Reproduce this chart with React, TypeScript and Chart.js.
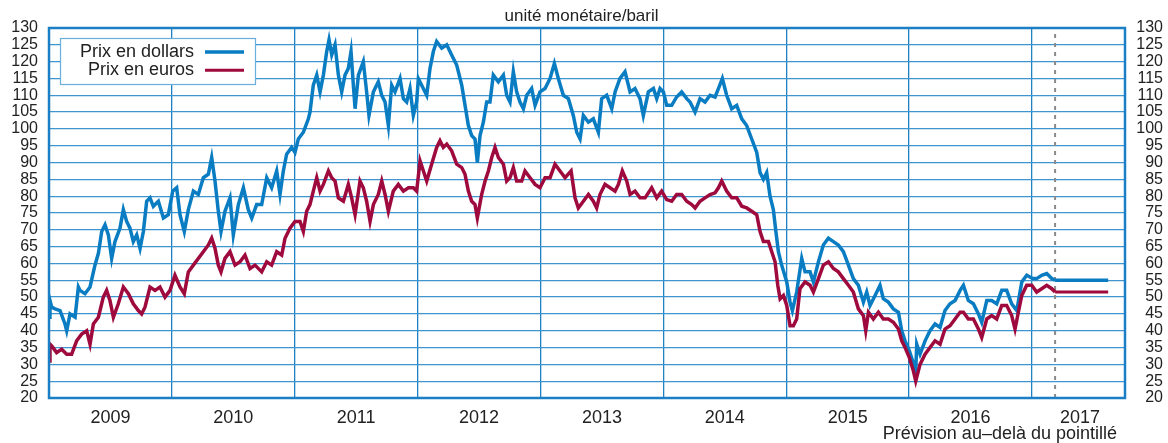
import React, { useEffect, useRef } from "react";
import { Chart, registerables } from "chart.js";

Chart.register(...registerables);

// ---------- data (dates as decimal years) ----------
const usdDates = [
  2009.000, 2009.008, 2009.022, 2009.049, 2009.090, 2009.130, 2009.144, 2009.171, 2009.212, 2009.239,
  2009.252, 2009.293, 2009.334, 2009.374, 2009.402, 2009.429, 2009.456, 2009.483, 2009.510, 2009.537,
  2009.578, 2009.605, 2009.632, 2009.659, 2009.686, 2009.714, 2009.741, 2009.768, 2009.795, 2009.822,
  2009.849, 2009.890, 2009.931, 2009.971, 2010.007, 2010.039, 2010.066, 2010.101, 2010.134, 2010.175,
  2010.215, 2010.256, 2010.297, 2010.324, 2010.351, 2010.378, 2010.400, 2010.432, 2010.473, 2010.500,
  2010.541, 2010.582, 2010.622, 2010.650, 2010.690, 2010.731, 2010.772, 2010.812, 2010.853, 2010.880,
  2010.907, 2010.934, 2010.975, 2011.002, 2011.029, 2011.070, 2011.111, 2011.124, 2011.151, 2011.179,
  2011.206, 2011.233, 2011.260, 2011.279, 2011.301, 2011.328, 2011.355, 2011.382, 2011.409, 2011.436,
  2011.458, 2011.477, 2011.491, 2011.518, 2011.558, 2011.585, 2011.604, 2011.640, 2011.680, 2011.708,
  2011.735, 2011.762, 2011.789, 2011.816, 2011.857, 2011.884, 2011.911, 2011.938, 2011.965, 2011.992,
  2012.006, 2012.033, 2012.074, 2012.101, 2012.128, 2012.155, 2012.196, 2012.237, 2012.277, 2012.318,
  2012.359, 2012.386, 2012.413, 2012.440, 2012.467, 2012.486, 2012.508, 2012.535, 2012.562, 2012.589,
  2012.616, 2012.657, 2012.698, 2012.725, 2012.752, 2012.779, 2012.806, 2012.833, 2012.861, 2012.888,
  2012.928, 2012.956, 2012.996, 2013.037, 2013.078, 2013.113, 2013.145, 2013.186, 2013.227, 2013.267,
  2013.295, 2013.322, 2013.349, 2013.390, 2013.430, 2013.471, 2013.498, 2013.539, 2013.580, 2013.607,
  2013.647, 2013.688, 2013.729, 2013.769, 2013.810, 2013.837, 2013.878, 2013.919, 2013.946, 2013.973,
  2014.000, 2014.027, 2014.068, 2014.108, 2014.149, 2014.190, 2014.217, 2014.258, 2014.298, 2014.339,
  2014.380, 2014.421, 2014.448, 2014.480, 2014.515, 2014.556, 2014.597, 2014.638, 2014.678, 2014.719,
  2014.760, 2014.787, 2014.814, 2014.841, 2014.868, 2014.895, 2014.914, 2014.936, 2014.963, 2015.004,
  2015.031, 2015.050, 2015.085, 2015.126, 2015.153, 2015.194, 2015.221, 2015.262, 2015.302, 2015.343,
  2015.384, 2015.424, 2015.465, 2015.506, 2015.546, 2015.587, 2015.628, 2015.655, 2015.682, 2015.723,
  2015.763, 2015.790, 2015.831, 2015.872, 2015.913, 2015.940, 2015.967, 2016.002, 2016.029, 2016.054,
  2016.062, 2016.089, 2016.130, 2016.170, 2016.211, 2016.252, 2016.292, 2016.333, 2016.374, 2016.415,
  2016.442, 2016.482, 2016.523, 2016.564, 2016.591, 2016.632, 2016.672, 2016.713, 2016.754, 2016.794,
  2016.835, 2016.876, 2016.917, 2016.957, 2017.006, 2017.038, 2017.079, 2017.120, 2017.161, 2017.188,
];
const usdPrices = [
  44, 49, 47, 46.5, 46, 42, 40, 45, 44, 53,
  52, 51, 53, 59.5, 63, 69.5, 71.5, 68.5, 61.5, 66.5,
  70.5, 76, 72.5, 70.5, 66.5, 68.5, 64.5, 69.5, 78.5, 79.5,
  77, 78.5, 73.5, 74.5, 81.5, 82.5, 74.5, 69.5, 76, 81.5,
  80.5, 85.5, 86.5, 91.5, 84.5, 75.5, 69.5, 75.5, 79.5, 68.5,
  77.5, 82.5, 76, 73.5, 77.5, 77.5, 85.5, 82.5, 87.5, 80.5,
  87.5, 92.5, 94.5, 93, 97, 99, 103, 105, 113, 116,
  111, 116, 123, 126.5, 122, 125, 116, 111, 116, 118,
  123, 113, 106, 116, 120, 111, 104, 111, 114, 110,
  108, 101, 113, 111, 115, 109, 108, 112, 104, 108,
  115, 113, 110, 118, 123, 126, 124, 125, 122, 119,
  113, 107, 101, 98, 97, 90, 98, 102, 108, 108,
  116, 114, 116, 110, 108, 117, 111, 108, 106, 110,
  112, 107, 111, 112, 115, 119.5, 115, 110, 109, 104,
  99, 97, 104, 102, 103, 99, 109, 110, 106, 111,
  115, 117, 111, 112, 109, 104, 111, 112, 109, 112,
  111, 107, 107, 109.5, 111, 109, 108, 105, 109, 108,
  110, 109.5, 112, 115, 110, 106, 107, 103, 101, 97,
  93, 87, 85, 87, 80, 76, 70, 63.5, 59.5, 54.5,
  48.5, 46, 51.5, 61.5, 57.5, 57.5, 54.5, 60.5, 65.5, 67.5,
  66.5, 65.5, 63.5, 59.5, 55.5, 53.5, 48.5, 51.5, 47.5, 50.5,
  53.5, 49.5, 48.5, 46.5, 45.5, 40, 37, 34, 31, 28,
  36, 33, 37, 40, 42, 41, 46, 48, 49, 52,
  53.5, 49, 48, 45, 42.5, 49, 49, 48, 52, 52,
  48, 46, 54.5, 56.5, 55.5, 55.5, 56.5, 57, 55.5, 55,
];

const eurDates = [
  2009.000, 2009.008, 2009.022, 2009.062, 2009.103, 2009.144, 2009.184, 2009.225, 2009.266, 2009.307,
  2009.334, 2009.361, 2009.402, 2009.442, 2009.469, 2009.496, 2009.524, 2009.564, 2009.605, 2009.646,
  2009.686, 2009.727, 2009.754, 2009.781, 2009.822, 2009.863, 2009.903, 2009.944, 2009.985, 2010.025,
  2010.066, 2010.101, 2010.134, 2010.175, 2010.215, 2010.256, 2010.297, 2010.324, 2010.351, 2010.378,
  2010.400, 2010.432, 2010.473, 2010.514, 2010.555, 2010.595, 2010.636, 2010.677, 2010.731, 2010.772,
  2010.812, 2010.853, 2010.894, 2010.921, 2010.961, 2011.002, 2011.043, 2011.070, 2011.097, 2011.124,
  2011.151, 2011.179, 2011.206, 2011.233, 2011.274, 2011.301, 2011.328, 2011.355, 2011.396, 2011.436,
  2011.463, 2011.491, 2011.531, 2011.558, 2011.585, 2011.613, 2011.640, 2011.680, 2011.708, 2011.735,
  2011.762, 2011.802, 2011.843, 2011.884, 2011.925, 2011.965, 2011.992, 2012.020, 2012.047, 2012.074,
  2012.114, 2012.155, 2012.182, 2012.209, 2012.237, 2012.277, 2012.318, 2012.359, 2012.386, 2012.413,
  2012.440, 2012.467, 2012.486, 2012.521, 2012.549, 2012.576, 2012.603, 2012.630, 2012.657, 2012.698,
  2012.725, 2012.752, 2012.779, 2012.806, 2012.847, 2012.874, 2012.915, 2012.956, 2012.996, 2013.037,
  2013.078, 2013.118, 2013.159, 2013.200, 2013.249, 2013.281, 2013.308, 2013.349, 2013.390, 2013.430,
  2013.457, 2013.484, 2013.525, 2013.566, 2013.607, 2013.634, 2013.666, 2013.702, 2013.729, 2013.769,
  2013.810, 2013.851, 2013.905, 2013.946, 2013.986, 2014.027, 2014.068, 2014.108, 2014.149, 2014.190,
  2014.231, 2014.258, 2014.298, 2014.339, 2014.380, 2014.421, 2014.448, 2014.475, 2014.515, 2014.556,
  2014.597, 2014.638, 2014.678, 2014.719, 2014.760, 2014.787, 2014.814, 2014.855, 2014.882, 2014.909,
  2014.931, 2014.950, 2014.977, 2015.004, 2015.031, 2015.058, 2015.085, 2015.112, 2015.153, 2015.194,
  2015.221, 2015.262, 2015.302, 2015.343, 2015.384, 2015.424, 2015.465, 2015.506, 2015.546, 2015.587,
  2015.628, 2015.647, 2015.669, 2015.709, 2015.750, 2015.790, 2015.831, 2015.872, 2015.913, 2015.940,
  2015.967, 2016.002, 2016.035, 2016.054, 2016.089, 2016.130, 2016.170, 2016.211, 2016.252, 2016.292,
  2016.333, 2016.374, 2016.415, 2016.442, 2016.482, 2016.523, 2016.564, 2016.591, 2016.632, 2016.672,
  2016.713, 2016.754, 2016.794, 2016.835, 2016.862, 2016.889, 2016.917, 2016.957, 2016.998, 2017.038,
  2017.079, 2017.120, 2017.161, 2017.188,
];
const eurPrices = [
  31, 36, 35.5, 33.5, 34.5, 33, 33, 37, 39, 40,
  36, 42, 44, 50, 52, 49, 44, 48, 53, 51,
  48, 46, 45, 47, 53, 52, 53, 50, 52, 56.5,
  53, 51, 57.5, 59.5, 61.5, 63.5, 65.5, 67.5, 64.5, 59.5,
  57.5, 61.5, 63.5, 59.5, 60.5, 62.5, 58.5, 59.5, 57.5, 60.5,
  59.5, 63.5, 62.5, 67.5, 70.5, 72.5, 72.5, 69.5, 75.5, 77.5,
  81.5, 85.5, 81.5, 83.5, 87.5, 85.5, 84.5, 79.5, 78.5, 83.5,
  79.5, 74.5, 84.5, 82.5, 78.5, 72.5, 77.5, 80.5, 84.5, 80.5,
  75.5, 81.5, 83.5, 81.5, 82.5, 82.5, 81.5, 90.5, 87.5, 84.5,
  89.5, 94.5, 96.5, 94.5, 95.5, 93.5, 89.5, 88.5, 86.5, 81.5,
  78.5, 77.5, 73.5, 80.5, 84.5, 87.5, 91.5, 94.5, 91.5, 89.5,
  84.5, 85.5, 88.5, 84.5, 84.5, 87.5, 85.5, 83.5, 82.5, 85.5,
  85.5, 89.5, 87.5, 85.5, 87.5, 79.5, 76.5, 78.5, 80.5, 78.5,
  76.5, 80.5, 83.5, 82.5, 81.5, 83.5, 87.5, 84.5, 80.5, 81.5,
  79.5, 79.5, 82.5, 79.5, 81.5, 79, 78.5, 80.5, 80.5, 78.5,
  77.5, 76.5, 78.5, 79.5, 80.5, 81, 82.5, 84.5, 81.5, 79.5,
  79.5, 77, 76.5, 75.5, 74.5, 69.5, 66.5, 66.5, 63.5, 60.5,
  53.5, 49.5, 50.5, 47.5, 41.5, 41.5, 43.5, 52.5, 54.5, 53.5,
  51.5, 55.5, 59.5, 60.5, 58.5, 57.5, 55.5, 53.5, 51.5, 46.5,
  44.5, 40, 45.5, 43.5, 45.5, 43.5, 43.5, 42.5, 40.5, 37,
  35, 32, 28, 25, 30, 33, 35, 37, 36, 40.5,
  41.5, 43.5, 45.5, 45.5, 43.5, 43.5, 40.5, 38, 43.5, 44.5,
  43.5, 47.5, 47.5, 44.5, 40.5, 45.5, 50.5, 53.5, 53.5, 51.5,
  52.5, 53.5, 52.5, 51.5,
];

const forecastStart = 2017.188;
const forecastEnd = 2017.62;
const usdForecast = 55;
const eurForecast = 51.5;

const xMin = 2009;
const xMax = 2017.757;
const yearBoundaries = [2009, 2010, 2011, 2012, 2013, 2014, 2015, 2016, 2017];
const yearLabelPositions = [2009.5, 2010.5, 2011.5, 2012.5, 2013.5, 2014.5, 2015.5, 2016.5, 2017.39];
const yearLabels = ["2009", "2010", "2011", "2012", "2013", "2014", "2015", "2016", "2017"];
const yMin = 20;
const yMax = 130;
const yStep = 5;

const seriesNames = ["Prix en dollars", "Prix en euros"];
const titleText = "unité monétaire/baril";
const footnoteText = "Prévision au\u2013delà du pointillé";

// ---------- styles ----------
const FONT = '"Liberation Sans", Arial, Helvetica, sans-serif';
const usdColor = "#0a7cc2";
const eurColor = "#9e0a3d";
const gridColor = "#3f95d0";
const yearLineColor = "#1f80c4";
const frameColor = "#1a7fc4";
const textColor = "#222222";
const dashColor = "#8a8a8a";

const toPoints = (xs: number[], ys: number[]) => xs.map((x, i) => ({ x, y: ys[i] }));

const overlayPlugin = {
  id: "overlay",
  afterDatasetsDraw(chart: any) {
    const { ctx, chartArea: a } = chart;
    ctx.save();
    // frame
    ctx.strokeStyle = frameColor;
    ctx.lineWidth = 2.5;
    ctx.strokeRect(a.left, a.top, a.right - a.left, a.bottom - a.top);
    // legend box
    const bx = a.left + 11;
    const by = a.top + 10;
    const bw = 195;
    const bh = 46;
    ctx.fillStyle = "#ffffff";
    ctx.fillRect(bx, by, bw, bh);
    ctx.strokeStyle = "#6aaedc";
    ctx.lineWidth = 1.2;
    ctx.strokeRect(bx + 0.5, by + 0.5, bw, bh);
    ctx.font = `18px ${FONT}`;
    ctx.textAlign = "right";
    ctx.textBaseline = "middle";
    const items = [
      { label: seriesNames[0], color: usdColor, w: 3.5 },
      { label: seriesNames[1], color: eurColor, w: 3 },
    ];
    items.forEach((it, i) => {
      const y = by + 14 + i * 18.3;
      ctx.fillStyle = textColor;
      ctx.fillText(it.label, bx + 134, y);
      ctx.strokeStyle = it.color;
      ctx.lineWidth = it.w;
      ctx.beginPath();
      ctx.moveTo(bx + 145, y);
      ctx.lineTo(bx + 184, y);
      ctx.stroke();
    });
    // footnote
    ctx.fillStyle = textColor;
    ctx.textAlign = "right";
    ctx.textBaseline = "alphabetic";
    ctx.fillText(footnoteText, a.right - 8, a.bottom + 41);
    ctx.restore();
  },
};

export default function App() {
  const ref = useRef<HTMLCanvasElement | null>(null);

  useEffect(() => {
    document.body.style.margin = "0";
    Chart.defaults.font.family = FONT;
    const canvas = ref.current;
    if (!canvas) return;

    const yTicksCommon = {
      stepSize: yStep,
      autoSkip: false,
      color: textColor,
      font: { size: 16, lineHeight: 1.2 },
    };

    const chart = new Chart(canvas, {
      type: "line",
      data: {
        datasets: [
          {
            label: seriesNames[1],
            data: toPoints(eurDates, eurPrices),
            borderColor: eurColor,
            borderWidth: 3.5,
            pointRadius: 0,
            tension: 0,
            order: 0,
          },
          {
            label: seriesNames[0],
            data: toPoints(usdDates, usdPrices),
            borderColor: usdColor,
            borderWidth: 3.5,
            pointRadius: 0,
            tension: 0,
            order: 1,
          },
          {
            label: "forecast-eur",
            data: [
              { x: forecastStart, y: eurForecast },
              { x: forecastEnd, y: eurForecast },
            ],
            borderColor: eurColor,
            borderWidth: 3,
            pointRadius: 0,
            order: 0,
          },
          {
            label: "forecast-usd",
            data: [
              { x: forecastStart, y: usdForecast },
              { x: forecastEnd, y: usdForecast },
            ],
            borderColor: usdColor,
            borderWidth: 3.5,
            pointRadius: 0,
            order: 1,
          },
          {
            label: "forecast-start",
            data: [
              { x: forecastStart, y: yMin },
              { x: forecastStart, y: yMax },
            ],
            borderColor: dashColor,
            borderWidth: 2,
            borderDash: [4, 5],
            pointRadius: 0,
            order: 3,
          },
        ],
      },
      options: {
        responsive: false,
        animation: false,
        devicePixelRatio: 1,
        parsing: false,
        normalized: true,
        layout: { padding: { left: 0, right: 5, top: 0, bottom: 0 } },
        plugins: {
          legend: { display: false },
          tooltip: { enabled: false },
          title: {
            display: true,
            text: titleText,
            color: textColor,
            font: { size: 17, weight: "normal", lineHeight: 1.2 },
            padding: { top: 6, bottom: 1.6 },
          },
        },
        scales: {
          x: {
            type: "linear",
            position: "bottom",
            min: xMin,
            max: xMax,
            afterBuildTicks: (s: any) => {
              s.ticks = yearBoundaries.map((v) => ({ value: v }));
            },
            ticks: { display: false },
            grid: { color: yearLineColor, lineWidth: 1.3, drawTicks: false },
            border: { display: false },
            afterFit: (s: any) => {
              s.height = 0;
            },
          },
          xl: {
            type: "linear",
            position: "bottom",
            min: xMin,
            max: xMax,
            afterBuildTicks: (s: any) => {
              s.ticks = yearLabelPositions.map((v) => ({ value: v }));
            },
            ticks: {
              autoSkip: false,
              maxRotation: 0,
              padding: 9,
              color: textColor,
              font: { size: 18, lineHeight: 1.2 },
              callback: (_v: any, i: number) => yearLabels[i],
            },
            grid: { display: false, drawTicks: false },
            border: { display: false },
            afterFit: (s: any) => {
              s.height = 45;
            },
          },
          y: {
            type: "linear",
            position: "left",
            min: yMin,
            max: yMax,
            ticks: { ...yTicksCommon, padding: 11 },
            grid: { color: gridColor, lineWidth: 1.3, drawTicks: false },
            border: { display: false },
            afterFit: (s: any) => {
              s.width = 49;
            },
          },
          y2: {
            type: "linear",
            position: "right",
            min: yMin,
            max: yMax,
            ticks: { ...yTicksCommon, padding: 8, crossAlign: "far" },
            grid: { display: false, drawTicks: false },
            border: { display: false },
            afterFit: (s: any) => {
              s.width = 38;
            },
          },
        },
      } as any,
      plugins: [overlayPlugin],
    });

    return () => chart.destroy();
  }, []);

  return (
    <div style={{ width: 1168, height: 443, position: "relative" }}>
      <canvas ref={ref} width={1168} height={443} style={{ display: "block", width: 1168, height: 443 }} />
    </div>
  );
}
